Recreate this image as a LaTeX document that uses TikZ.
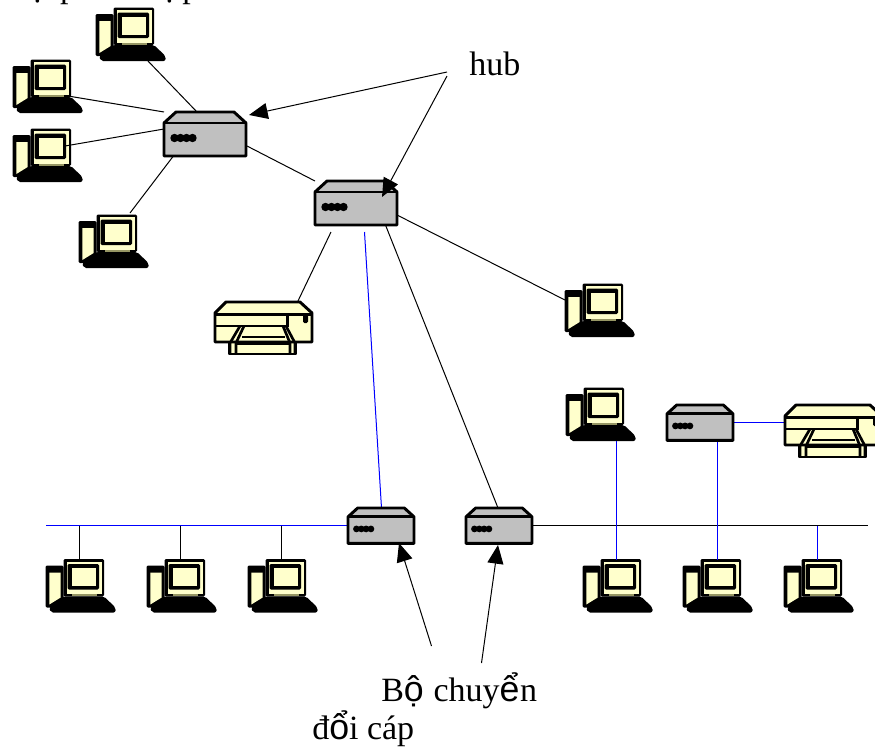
\documentclass[tikz,border=0pt]{standalone}
\usepackage{fontspec}
\setmainfont{Liberation Serif}
\newfontfamily\vnglyph{Liberation Sans}[Scale=1.05]
\usetikzlibrary{arrows.meta}
\definecolor{cream}{RGB}{255,255,204}
\definecolor{hubgray}{RGB}{192,192,192}
\definecolor{olive}{RGB}{150,150,100}
\definecolor{netblue}{RGB}{0,0,255}
\tikzset{
  link/.style={draw=black,line width=0.75pt},
  bluelink/.style={draw=netblue,line width=0.75pt},
  callout/.style={draw=black,line width=0.75pt,-{Triangle[length=14pt,width=12pt]}},
  label/.style={font=\fontsize{25.5}{30}\selectfont,inner sep=0pt,anchor=base west},
  computer/.pic={
    \fill[black,rounded corners=1pt] (-0.5,6) rectangle (17.5,48);
    \fill[cream] (3.3,13) -- (14.7,13) -- (14.7,38) -- (3.3,45) -- cycle;
    \fill[black,rounded corners=1pt] (17.5,-0.5) rectangle (58,37);
    \fill[cream] (20.5,2) rectangle (55.5,34.5);
    \fill[black,rounded corners=1pt] (21.5,4.5) rectangle (53,30);
    \fill[cream] (25.5,8.5) rectangle (49.5,26.5);
    \fill[olive] (26,34.5) rectangle (51,36.5);
    \fill[black,rounded corners=1.5pt] (17,37) -- (58,37) -- (69.5,48) -- (69.5,53) -- (5,53) -- (3,48) -- cycle;
  },
  hubicon/.pic={
    \draw[line width=2.2pt,line join=round,fill=hubgray] (0,11) -- (12,0) -- (70,0) -- (82,11) -- (82,44) -- (0,44) -- cycle;
    \draw[line width=2.2pt] (0,11) -- (82,11);
    \foreach \dx in {10.5,16.5,22.5,28.5} \fill[black] (\dx,26) circle[radius=4.2];
  },
  printer/.pic={
    \draw[line width=2.2pt,line join=round,fill=cream] (14,38) rectangle (81,52);
    \draw[line width=2.2pt,line join=round,fill=cream] (0,11) -- (11,0) -- (85,0) -- (97,11) -- (97,40) -- (0,40) -- cycle;
    \draw[line width=2.2pt] (0,12.5) -- (97,12.5);
    \draw[line width=2.2pt] (0,24) -- (72.5,24) -- (72.5,12.5);
    \fill[black,rounded corners=1pt] (88,13) rectangle (93,21);
    \draw[line width=2pt] (25,24) -- (15,41) -- (15,52);
    \draw[line width=2pt] (29,24) -- (21,41) -- (21,52);
    \draw[line width=2pt] (68,24) -- (75,41) -- (75,52);
    \draw[line width=2pt] (71,24) -- (80,41) -- (80,52);
    \draw[line width=2pt] (27,35) -- (70,35);
    \draw[line width=2.2pt] (21,42) -- (75,42);
  }
}
\begin{document}
\begin{tikzpicture}[x=0.75pt,y=-0.75pt]
\useasboundingbox (0,0) rectangle (875,747);
\clip (0,0) rectangle (875,747);
% top clipped line of text
\node[label] (top1) at (30,-3) {ạ\hspace{11pt}p};
\node[label] (top2) at (162,-3) {ạ\hspace{3.75pt}p};
% connector end coordinates
\coordinate (c1e) at (147.5,60.5);
\coordinate (h1a) at (197,112);
\coordinate (c2e) at (68,96);
\coordinate (h1b) at (164,112);
\coordinate (c3e) at (65,146);
\coordinate (h1c) at (164,129);
\coordinate (h1d) at (181,146);
\coordinate (c4e) at (130,213);
\coordinate (h1e) at (247,146);
\coordinate (h2a) at (315,181);
\coordinate (h2b) at (331,232);
\coordinate (p1e) at (297.5,302);
\coordinate (h2c) at (364.5,232);
\coordinate (h3top) at (381.5,508);
\coordinate (h2d) at (381.5,215);
\coordinate (h4top) at (498,508);
\coordinate (h2e) at (397,215);
\coordinate (c5e) at (565,300);
\coordinate (busL) at (46,525.5);
\coordinate (busLe) at (348,525.5);
\coordinate (busR) at (532,525.5);
\coordinate (busRe) at (868,525.5);
\coordinate (hubT1) at (447,72);
\coordinate (hubT2) at (447,76);
\coordinate (h1tip) at (249,115);
\coordinate (h2tip) at (382,197);
\coordinate (cT1) at (431.5,646);
\coordinate (cT2) at (481.5,663);
\coordinate (h3tip) at (399,543);
\coordinate (h4tip) at (498,545);
% devices
\pic (comp1) at (96,8) {computer};
\pic (comp2) at (13,60) {computer};
\pic (comp3) at (13,129) {computer};
\pic (comp4) at (79,215) {computer};
\pic (comp5) at (565,284) {computer};
\pic (comp6) at (566,388) {computer};
\pic (comp7) at (46,559.5) {computer};
\pic (comp8) at (147,559.5) {computer};
\pic (comp9) at (248,559.5) {computer};
\pic (comp10) at (583,559.5) {computer};
\pic (comp11) at (683,559.5) {computer};
\pic (comp12) at (784,559.5) {computer};
% links
\draw[link] (c1e) -- (h1a);
\draw[link] (c2e) -- (h1b);
\draw[link] (c3e) -- (h1c);
\draw[link] (c4e) -- (h1d);
\draw[link] (h1e) -- (h2a);
\draw[link] (h2b) -- (p1e);
\draw[bluelink] (h2c) -- (h3top);
\draw[link] (h2d) -- (h4top);
\draw[link] (h2e) -- (c5e);
\draw[bluelink] (busL) -- (busLe);
\draw[link] (busR) -- (busRe);
\foreach \xx in {79.5,180.5,281.5} \draw[link] (\xx,525.5) -- (\xx,560);
\draw[bluelink] (616.5,441) -- (616.5,560);
\draw[bluelink] (717.5,441) -- (717.5,560);
\draw[bluelink] (817.5,525.5) -- (817.5,560);
\draw[bluelink] (733,422.5) -- (786,422.5);
% hubs and printers
\pic (hub1) at (164,112) {hubicon};
\pic (hub2) at (315,181) {hubicon};
\pic[transform shape,scale=0.805] (hub3) at (348,508) {hubicon};
\pic[transform shape,scale=0.805] (hub4) at (466,508) {hubicon};
\pic[transform shape,scale=0.805] (hub5) at (667,405) {hubicon};
\pic (prn1) at (215,302) {printer};
\pic (prn2) at (785,405) {printer};
% callouts
\draw[callout] (hubT1) -- (h1tip);
\draw[callout] (hubT2) -- (h2tip);
\draw[callout] (cT1) -- (h3tip);
\draw[callout] (cT2) -- (h4tip);
% labels
\node[label] (hubtxt) at (469,75) {hub};
\node[label] (t1) at (381,701) {B{\vnglyph ộ}\hspace{1pt} chuy{\vnglyph ể}\hspace{0.5pt}n};
\node[label] (t2) at (312,739.5) {đ{\vnglyph ổ}i cáp};
\end{tikzpicture}
\end{document}
